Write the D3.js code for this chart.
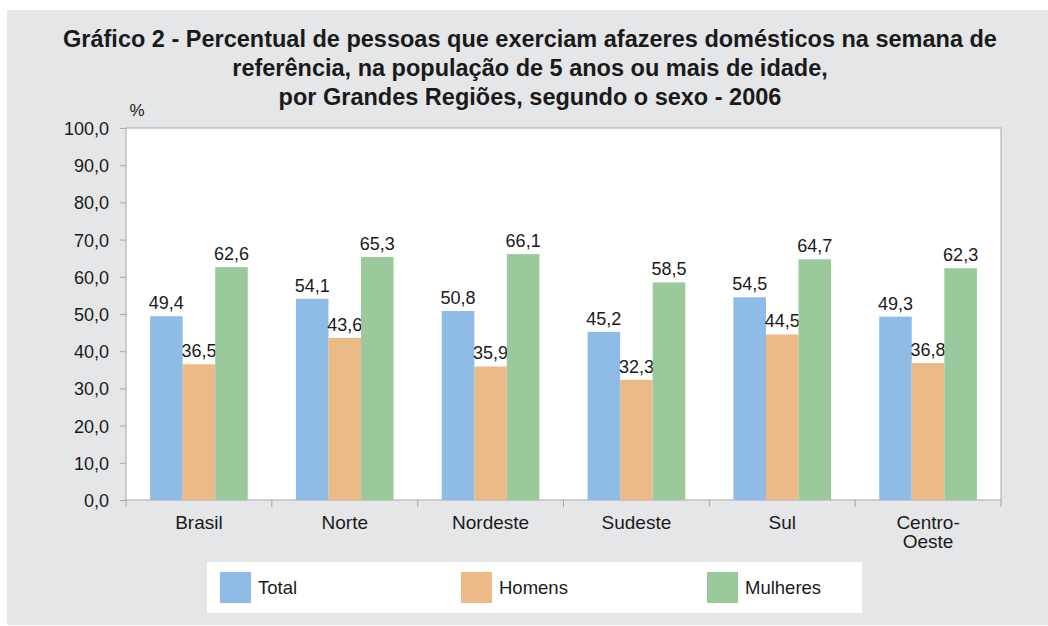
<!DOCTYPE html>
<head>
  <meta charset="utf-8">
  <script src="https://d3js.org/d3.v7.min.js"></script>
  <style>
    body { margin:0; background:#fff; }
    text { font-family: "Liberation Sans", Arial, sans-serif; fill:#1a1a1a; }
    .title { font-weight:bold; font-size:23.5px; }
    .axis path, .axis line { stroke:#a8a8a8; }
  </style>
</head>

<body>
<script>
  // data
  var regions = ["Brasil", "Norte", "Nordeste", "Sudeste", "Sul", "Centro-Oeste"];
  var series = ["Total", "Homens", "Mulheres"];
  var colors = ["#8fbce6", "#ebba86", "#9ac99c"];
  var total    = [49.4, 54.1, 50.8, 45.2, 54.5, 49.3];
  var homens   = [36.5, 43.6, 35.9, 32.3, 44.5, 36.8];
  var mulheres = [62.6, 65.3, 66.1, 58.5, 64.7, 62.3];
  var yTicks = [0, 10, 20, 30, 40, 50, 60, 70, 80, 90, 100];

  var values = [total, homens, mulheres];
  var W = 1048, H = 626;
  var plot = {left:126, right:1001, top:128, bottom:500};

  var svg = d3.select("body").append("svg")
    .attr("width", W)
    .attr("height", H);

  // grey panel
  svg.append("rect")
    .attr("x", 7).attr("y", 10)
    .attr("width", W - 7).attr("height", H - 11)
    .attr("fill", "#e5e6e8");

  // title
  var titleLines = [
    "Gráfico 2 - Percentual de pessoas que exerciam afazeres domésticos na semana de",
    "referência, na população de 5 anos ou mais de idade,",
    "por Grandes Regiões, segundo o sexo - 2006"
  ];
  svg.selectAll(".title")
    .data(titleLines)
    .enter().append("text")
    .attr("class", "title")
    .attr("x", 530)
    .attr("y", function(d, i) { return 47 + i * 29; })
    .attr("text-anchor", "middle")
    .text(function(d) { return d; });

  // plot background
  svg.append("rect")
    .attr("x", plot.left).attr("y", plot.top)
    .attr("width", plot.right - plot.left)
    .attr("height", plot.bottom - plot.top)
    .attr("fill", "#fff")
    .attr("stroke", "#a8a8a8");

  var x = d3.scaleBand()
    .domain(regions)
    .range([plot.left, plot.right])
    .padding(0);

  var xs = d3.scaleBand()
    .domain(series)
    .range([0, x.bandwidth()])
    .paddingInner(0)
    .paddingOuter(0.74);

  var y = d3.scaleLinear()
    .domain([0, 100])
    .range([plot.bottom, plot.top]);

  // y axis
  var yAxis = svg.append("g")
    .attr("class", "axis")
    .attr("transform", "translate(" + plot.left + ",0)")
    .call(d3.axisLeft(y)
      .tickValues(yTicks)
      .tickSize(6)
      .tickPadding(11)
      .tickFormat(function(d) { return d.toFixed(1).replace(".", ","); }));
  yAxis.selectAll("text").style("font-size", "18px").style("fill", "#1a1a1a").attr("dy", "0.36em");
  yAxis.select(".domain").remove();

  svg.append("text")
    .attr("x", 137).attr("y", 116)
    .attr("text-anchor", "middle")
    .style("font-size", "17px")
    .text("%");

  // x axis ticks at category boundaries
  var bounds = regions.map(function(r) { return x(r); }).concat([x.range()[1]]);
  svg.append("g")
    .selectAll("line")
    .data(bounds)
    .enter().append("line")
    .attr("x1", function(d) { return d; })
    .attr("x2", function(d) { return d; })
    .attr("y1", plot.bottom)
    .attr("y2", plot.bottom + 7)
    .attr("stroke", "#a8a8a8");

  // category labels
  svg.append("g")
    .selectAll("text")
    .data(regions)
    .enter().append("text")
    .attr("x", function(d) { return x(d) + x.bandwidth() / 2; })
    .attr("y", 529)
    .attr("text-anchor", "middle")
    .style("font-size", "19px")
    .each(function(d) {
      var parts = d === "Centro-Oeste" ? ["Centro-", "Oeste"] : [d];
      var t = d3.select(this);
      parts.forEach(function(p, i) {
        t.append("tspan")
          .attr("x", x(d) + x.bandwidth() / 2)
          .attr("dy", i === 0 ? 0 : 19)
          .text(p);
      });
    });

  // bars
  var groups = svg.selectAll(".grp")
    .data(series)
    .enter().append("g")
    .attr("class", "grp");

  groups.each(function(s, si) {
    var g = d3.select(this);
    g.selectAll("rect")
      .data(values[si])
      .enter().append("rect")
      .attr("x", function(d, i) { return x(regions[i]) + xs(s); })
      .attr("y", function(d) { return y(d); })
      .attr("width", xs.bandwidth())
      .attr("height", function(d) { return y(0) - y(d); })
      .attr("fill", colors[si]);

    g.selectAll("text")
      .data(values[si])
      .enter().append("text")
      .attr("x", function(d, i) { return x(regions[i]) + xs(s) + xs.bandwidth() / 2; })
      .attr("y", function(d) { return y(d) - 7; })
      .attr("text-anchor", "middle")
      .style("font-size", "18px")
      .text(function(d) { return d.toFixed(1).replace(".", ","); });
  });

  // legend
  var legend = svg.append("g");
  legend.append("rect")
    .attr("x", 207).attr("y", 562)
    .attr("width", 655).attr("height", 51)
    .attr("fill", "#fff");

  var legendX = [220, 461, 707];
  var items = legend.selectAll(".item")
    .data(series)
    .enter().append("g")
    .attr("class", "item")
    .attr("transform", function(d, i) { return "translate(" + legendX[i] + ",572)"; });
  items.append("rect")
    .attr("width", 31).attr("height", 31)
    .attr("fill", function(d, i) { return colors[i]; });
  items.append("text")
    .attr("x", 38).attr("y", 22)
    .style("font-size", "18.5px")
    .text(function(d) { return d; });
</script>
</body>
